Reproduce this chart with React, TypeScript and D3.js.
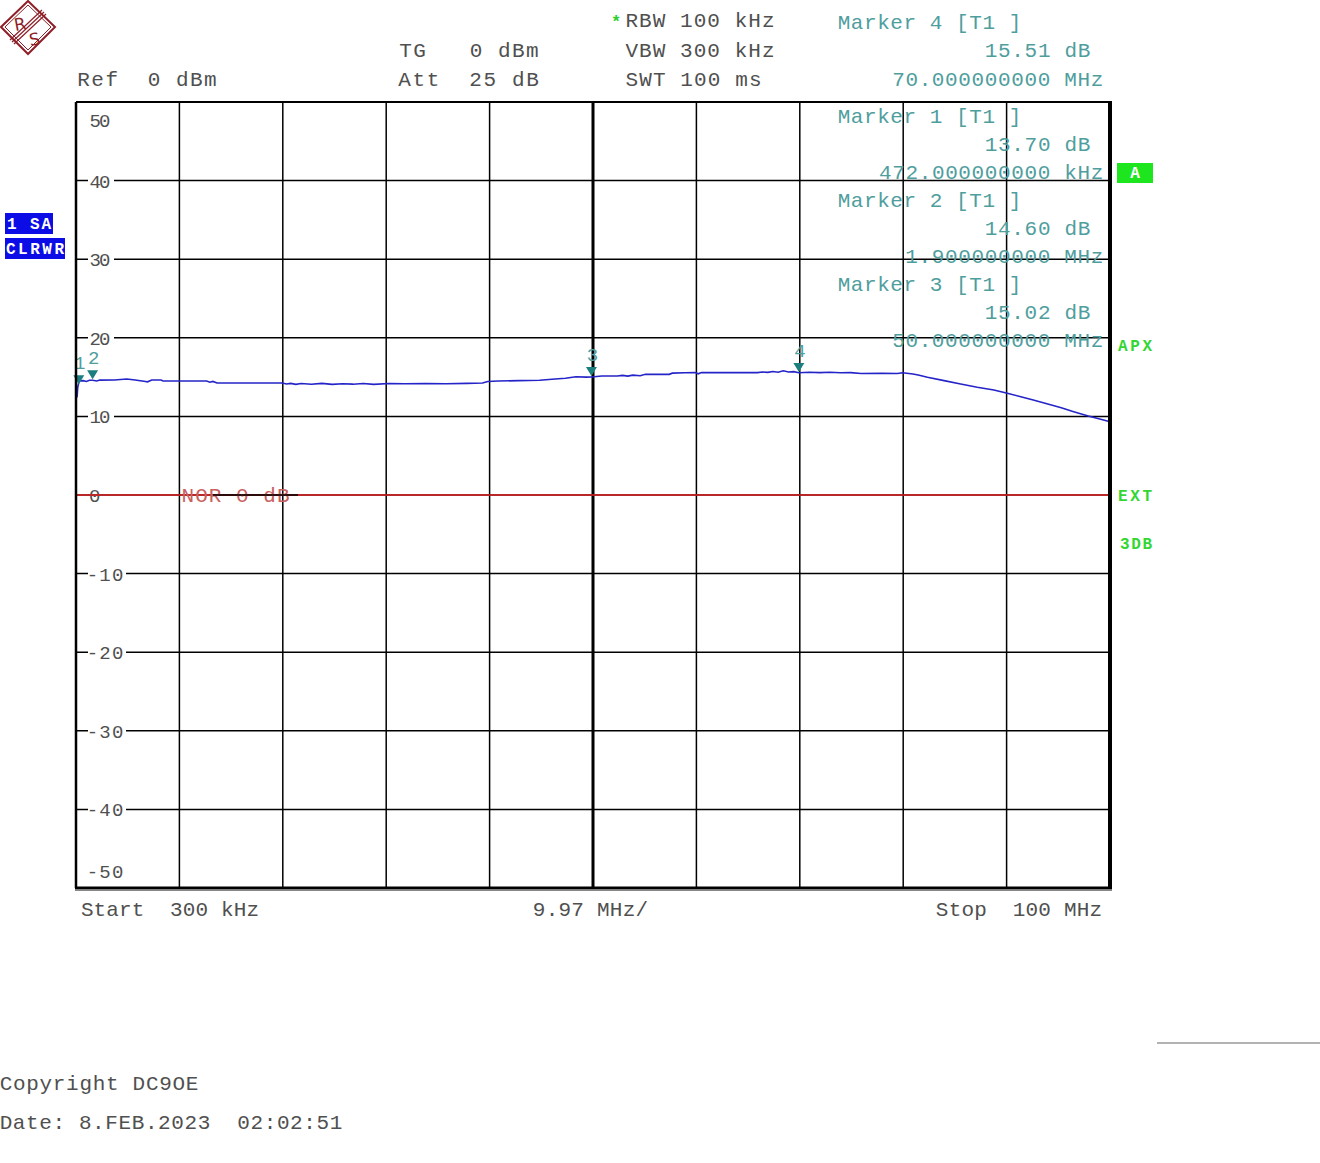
import React from "react";
import * as d3 from "d3";

// ---- data ----
const FREQ_MHZ = [0.3, 0.4, 0.47, 0.6, 1.0, 1.3, 1.6, 1.9, 2.3, 2.6, 4.0, 5.2, 6.0, 7.0, 7.2, 7.6, 8.5, 8.7, 10.0, 12.9, 13.2, 13.5, 13.9, 17.0, 20.2, 20.6, 21.0, 21.5, 22.0, 23.0, 24.0, 25.0, 26.0, 27.0, 28.0, 29.0, 30.5, 32.0, 34.0, 36.0, 38.0, 39.5, 40.0, 41.0, 43.0, 45.0, 46.5, 47.5, 48.5, 49.5, 50.0, 51.0, 52.5, 53.0, 53.5, 54.0, 54.7, 55.2, 57.5, 57.8, 59.0, 60.0, 60.3, 60.6, 66.0, 66.5, 67.0, 67.5, 68.0, 68.5, 69.0, 69.5, 70.0, 71.0, 72.0, 73.0, 74.0, 75.0, 76.0, 78.0, 79.5, 80.0, 81.0, 81.5, 82.4, 84.0, 85.6, 87.2, 88.8, 90.1, 91.4, 92.6, 94.0, 95.3, 96.5, 97.9, 99.1, 100.0];
const LEVEL_DB = [14.45, 12.4, 13.7, 14.5, 14.55, 14.45, 14.6, 14.6, 14.5, 14.62, 14.63, 14.75, 14.63, 14.45, 14.4, 14.63, 14.63, 14.5, 14.5, 14.5, 14.35, 14.45, 14.25, 14.25, 14.25, 14.12, 14.2, 14.08, 14.18, 14.1, 14.2, 14.08, 14.15, 14.1, 14.18, 14.08, 14.18, 14.15, 14.18, 14.15, 14.2, 14.25, 14.45, 14.5, 14.55, 14.6, 14.75, 14.85, 15.05, 15.0, 15.02, 15.14, 15.14, 15.22, 15.12, 15.25, 15.18, 15.35, 15.35, 15.5, 15.55, 15.57, 15.42, 15.57, 15.57, 15.65, 15.6, 15.72, 15.62, 15.8, 15.65, 15.7, 15.55, 15.62, 15.57, 15.62, 15.55, 15.57, 15.45, 15.48, 15.45, 15.56, 15.4, 15.27, 14.97, 14.55, 14.12, 13.7, 13.36, 12.94, 12.5, 12.09, 11.58, 11.1, 10.6, 10.05, 9.63, 9.33];

const Y_TICKS = [50, 40, 30, 20, 10, 0, -10, -20, -30, -40, -50];
const X_START = 0.3;
const X_STOP = 100;
const X_PER_DIV = 9.97;
const X_DIVS = [0, 1, 2, 3, 4, 5, 6, 7, 8, 9, 10];

const MARKER_ID = [1, 2, 3, 4];
const MARKER_FREQ = [0.472, 1.9, 50, 70];
const MARKER_DB = [13.7, 14.6, 15.02, 15.51];

const MONO = "'Courier New', 'Liberation Mono', monospace";
const GRAY = "#505050";
const TEAL = "#4f9e9e";

function T({ s, x0, x1, y, fill = GRAY, size = 21, weight = "normal" }: any) {
  const n = s.length;
  const glyph = size * 0.5;
  const adv = n > 1 ? (x1 - x0 - glyph) / (n - 1) : size * 0.6;
  return (
    <text
      x={x0 - (adv - glyph) / 2}
      y={y}
      fill={fill}
      fontFamily={MONO}
      fontSize={size}
      fontWeight={weight}
      textLength={adv * n}
      lengthAdjust="spacing"
      style={{ whiteSpace: "pre" }}
    >
      {s}
    </text>
  );
}

export default function App() {
  const L = 76, R = 1110, TOP = 102, B = 888;
  const x = d3.scaleLinear().domain([X_START, X_STOP]).range([L, R]);
  const y = d3.scaleLinear().domain([-50, 50]).range([B, TOP]);
  const pts: [number, number][] = FREQ_MHZ.slice(0, Math.min(FREQ_MHZ.length, LEVEL_DB.length)).map((f, i) => [f, LEVEL_DB[i]]);
  const line = d3.line<[number, number]>().x((d) => x(d[0])).y((d) => y(d[1]));
  const xGrid = X_DIVS.map((i) => x(X_START + i * X_PER_DIV));

  const col = (s: string, yb: number) => {
    const adv = 13.2;
    const right = s.endsWith("dB") ? 1089 : 1102;
    return <T s={s} x0={right - (s.length - 1) * adv - 10.5} x1={right} y={yb} fill={TEAL} />;
  };

  return (
    <svg width={1320} height={1163} style={{ position: "absolute", left: 0, top: 0, background: "#fff" }}>
      <rect x={0} y={0} width={1320} height={1163} fill="#fff" />
      {/* logo */}
      <g stroke="#8e1f28" fill="none">
        <polygon points="28,1 55,27 28,54 1,27" strokeWidth={2} />
        <polygon points="28,5 51,27 28,50 5,27" strokeWidth={1} />
        <line x1={44} y1={12} x2={12} y2={42} strokeWidth={1.2} />
        <line x1={46} y1={14} x2={14} y2={44} strokeWidth={1.2} />
        <line x1={42} y1={10} x2={10} y2={40} strokeWidth={1.2} />
      </g>
      <text x={14} y={30} fontFamily="'DejaVu Sans', sans-serif" fontSize={17} fill="#8e1f28" transform="rotate(-10 20 24)">R</text>
      <text x={29} y={45} fontFamily="'DejaVu Sans', sans-serif" fontSize={17} fill="#8e1f28" transform="rotate(-10 35 38)">S</text>

      {/* header */}
      <T s="Ref  0 dBm" x0={79} x1={215} y={86} />
      <T s="TG   0 dBm" x0={401} x1={537} y={57} />
      <T s="Att  25 dB" x0={400} x1={537} y={86} />
      <text x={611} y={27} fill="#2ccf2c" fontFamily={MONO} fontSize={17} fontWeight="bold">*</text>
      <T s="RBW 100 kHz" x0={627} x1={773} y={27} />
      <T s="VBW 300 kHz" x0={627} x1={773} y={57} />
      <T s="SWT 100 ms" x0={627} x1={760} y={86} />

      {/* grid */}
      <g stroke="#000">
        {xGrid.map((gx, i) => (
          <line key={"v" + i} x1={gx} x2={gx} y1={TOP} y2={B} strokeWidth={i === 5 ? 3 : 1.5} />
        ))}
        {Y_TICKS.filter((v) => v !== 50 && v !== -50).map((v) => (
          <line key={"h" + v} x1={L} x2={R} y1={y(v)} y2={y(v)} strokeWidth={1.5} />
        ))}
      </g>
      {/* y labels with gaps */}
      {Y_TICKS.map((v) => {
        const s = String(v);
        const yy = v === 50 ? 120 : v === -50 ? 871 : y(v);
        const w = s.length === 1 ? 12 : s.length === 2 ? 24 : 36;
        return (
          <g key={"yl" + v}>
            {v !== 50 && v !== -50 && v !== 0 && (
              <rect x={88} y={yy - 7} width={w + 2} height={14} fill="#fff" />
            )}
            <T s={s} x0={s.length === 3 ? 88 : 90} x1={s.length === 3 ? 122 : s.length === 2 ? 110 : 100} y={yy + 7} size={19} />
          </g>
        );
      })}

      {/* reference line */}
      <line x1={L} x2={R} y1={y(0)} y2={y(0)} stroke="#e02020" strokeWidth={1.5} />
      <T s="NOR 0 dB" x0={183} x1={288} y={502} fill="#c96060" />
      <line x1={213} x2={298} y1={y(0)} y2={y(0)} stroke="#000" strokeWidth={1.5} />

      {/* trace */}
      <path d={line(pts) || ""} fill="none" stroke="#2424c8" strokeWidth={1.6} />

      {/* markers */}
      {MARKER_ID.map((id, i) => {
        const mx = x(MARKER_FREQ[i]) + (id === 1 ? 1 : 0);
        const my = y(MARKER_DB[i]) - (id === 1 ? 2 : 0);
        const top = my - 10;
        return (
          <g key={"m" + id}>
            <polygon points={`${mx - 5.5},${top} ${mx + 5.5},${top} ${mx},${my - 1}`} fill="#1b7f7f" />
            <text x={mx + 1} y={top - 6} textAnchor="middle" fontFamily={MONO} fontSize={19} fill={TEAL}>{id}</text>
          </g>
        );
      })}

      {/* marker text (drawn over grid) */}
      <T s="Marker 4 [T1 ]" x0={839} x1={1020} y={29} fill={TEAL} />
      {col("15.51 dB", 57)}
      {col("70.000000000 MHz", 86)}
      <T s="Marker 1 [T1 ]" x0={839} x1={1020} y={123} fill={TEAL} />
      {col("13.70 dB", 151)}
      {col("472.000000000 kHz", 179)}
      <T s="Marker 2 [T1 ]" x0={839} x1={1020} y={207} fill={TEAL} />
      {col("14.60 dB", 235)}
      {col("1.900000000 MHz", 263)}
      <T s="Marker 3 [T1 ]" x0={839} x1={1020} y={291} fill={TEAL} />
      {col("15.02 dB", 319)}
      {col("50.000000000 MHz", 347)}

      {/* frame */}
      <line x1={L} x2={L} y1={TOP} y2={B} stroke="#000" strokeWidth={2.5} />
      <line x1={L} x2={R} y1={TOP} y2={TOP} stroke="#000" strokeWidth={2} />
      <line x1={R} x2={R} y1={TOP - 1} y2={B + 1} stroke="#000" strokeWidth={4} />
      <line x1={L - 1} x2={R + 2} y1={B} y2={B} stroke="#000" strokeWidth={3} />
      <line x1={L - 1} x2={R + 2} y1={B + 2.5} y2={B + 2.5} stroke="#888" strokeWidth={1} />

      {/* side badges */}
      <rect x={5} y={213} width={48} height={21} fill="#0c0ce6" />
      <text x={7} y={229} fill="#fff" fontFamily={MONO} fontWeight="bold" fontSize={16} textLength={44} lengthAdjust="spacing" style={{ whiteSpace: "pre" }}>1 SA</text>
      <rect x={5} y={238} width={60} height={21} fill="#0c0ce6" />
      <text x={6} y={254} fill="#fff" fontFamily={MONO} fontWeight="bold" fontSize={16} textLength={58} lengthAdjust="spacing">CLRWR</text>
      <rect x={1117} y={163} width={36} height={20} fill="#1ee61e" />
      <text x={1135} y={178} textAnchor="middle" fill="#fff" fontFamily={MONO} fontWeight="bold" fontSize={16}>A</text>
      <text x={1118} y={351} fill="#33d633" fontFamily={MONO} fontWeight="bold" fontSize={16} textLength={34} lengthAdjust="spacing">APX</text>
      <text x={1118} y={501} fill="#33d633" fontFamily={MONO} fontWeight="bold" fontSize={16} textLength={34} lengthAdjust="spacing">EXT</text>
      <text x={1120} y={549} fill="#33d633" fontFamily={MONO} fontWeight="bold" fontSize={16} textLength={32} lengthAdjust="spacing">3DB</text>

      {/* footer */}
      <T s="Start  300 kHz" x0={82} x1={258} y={916} />
      <T s="9.97 MHz/" x0={534} x1={647} y={916} />
      <T s="Stop  100 MHz" x0={937} x1={1101} y={916} />
      <line x1={1157} x2={1320} y1={1043} y2={1043} stroke="#666" strokeWidth={1} />
      <T s="Copyright DC9OE" x0={1} x1={197} y={1090} />
      <T s="Date: 8.FEB.2023  02:02:51" x0={1} x1={341} y={1129} />
    </svg>
  );
}
